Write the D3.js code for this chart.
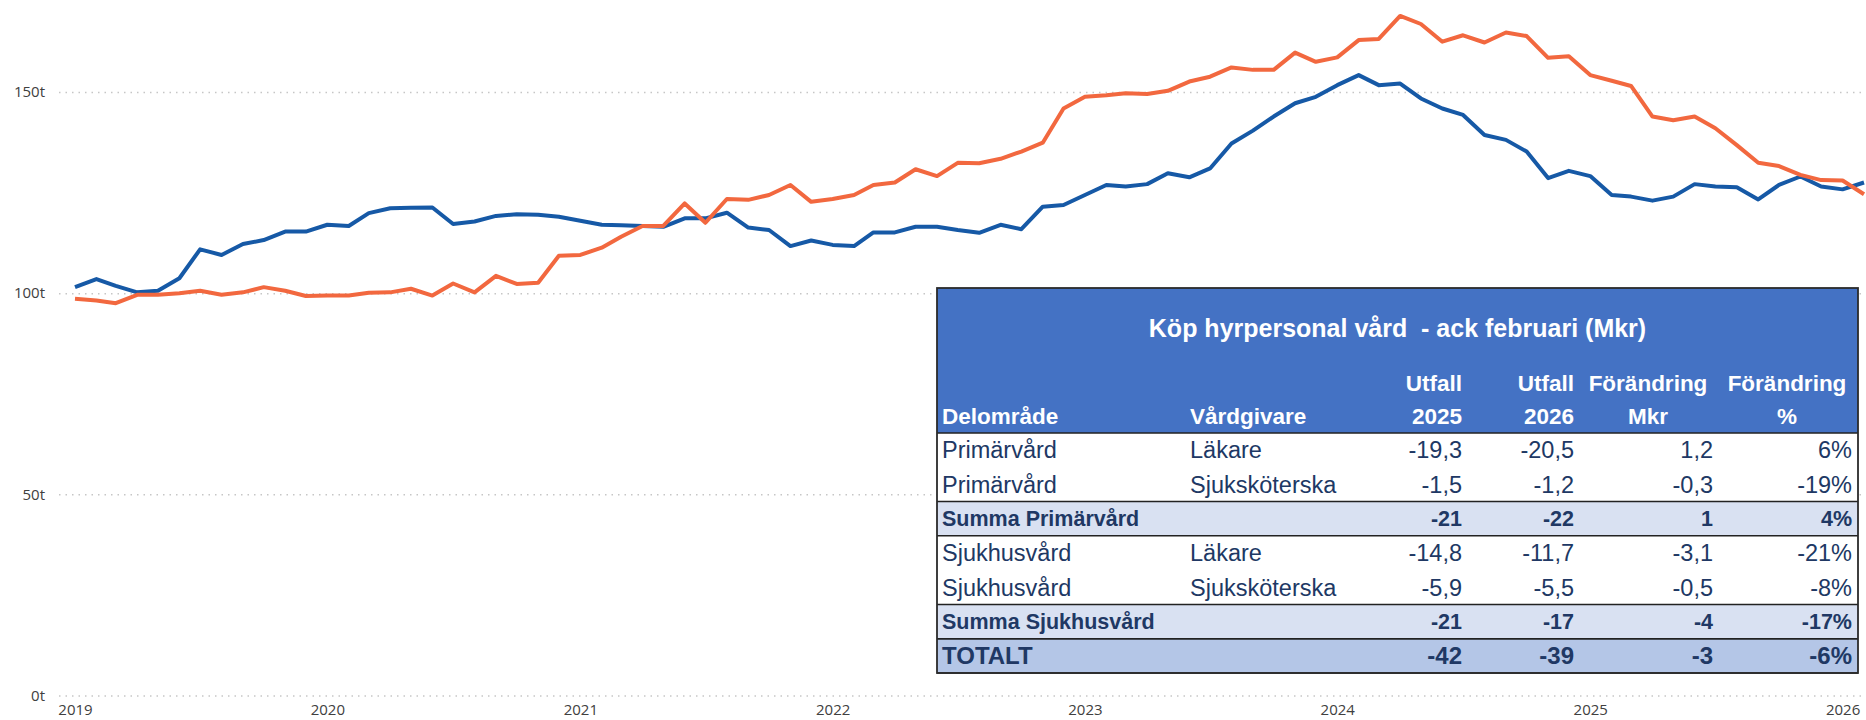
<!DOCTYPE html>
<html>
<head>
<meta charset="utf-8">
<script src="https://cdn.jsdelivr.net/npm/d3@7"></script>
<style>
body { margin: 0; background: #fff; }
svg { display: block; }
.axis text { font-family: "Open Sans", sans-serif; font-size: 15px; fill: #404040; }
.tbl text { font-family: "Liberation Sans", Arial, sans-serif; white-space: pre; }
</style>
</head>
<body>
<div id="chart"></div>
<script>
var valueTicks = [0, 50, 100, 150]
var yearTicks = [2019, 2020, 2021, 2022, 2023, 2024, 2025, 2026]

// månadsvärden jan 2019 - feb 2026
var seriesBlue = [
	101.5, 103.5, 101.8, 100.2, 100.6, 103.7, 110.9, 109.5, 112.2, 113.2, 115.3, 115.3,
	117.0, 116.7, 119.9, 121.1, 121.2, 121.3, 117.2, 117.8, 119.2, 119.6, 119.5, 119.0,
	118.0, 117.0, 116.9, 116.7, 116.5, 118.6, 118.6, 120.0, 116.3, 115.7, 111.7, 113.1,
	112.0, 111.7, 115.1, 115.1, 116.5, 116.5, 115.7, 115.0, 117.0, 115.9, 121.5, 121.9,
	124.4, 126.9, 126.5, 127.1, 129.8, 128.8, 131.0, 137.2, 140.4, 143.9, 147.2, 148.8,
	151.7, 154.2, 151.7, 152.1, 148.4, 145.9, 144.3, 139.3, 138.1, 135.2, 128.6, 130.4,
	129.1, 124.4, 124.0, 123.0, 124.0, 127.1, 126.5, 126.3, 123.3, 126.9, 129.0, 126.5,
	125.8, 127.5
]
var seriesOrange = [
	98.6, 98.2, 97.5, 99.6, 99.6, 100.0, 100.6, 99.6, 100.2, 101.5, 100.6, 99.3,
	99.4, 99.4, 100.1, 100.2, 101.1, 99.4, 102.4, 100.2, 104.3, 102.3, 102.6, 109.3,
	109.5, 111.3, 114.0, 116.7, 116.7, 122.3, 117.5, 123.4, 123.2, 124.4, 126.9, 122.7,
	123.4, 124.4, 126.9, 127.5, 130.8, 129.1, 132.4, 132.3, 133.4, 135.2, 137.4, 145.9,
	148.8, 149.2, 149.7, 149.5, 150.3, 152.6, 153.8, 156.1, 155.5, 155.5, 159.8, 157.5,
	158.6, 162.9, 163.2, 168.9, 166.9, 162.5, 164.1, 162.3, 164.8, 163.9, 158.5, 158.9,
	154.2, 152.8, 151.5, 143.9, 143.0, 143.9, 141.0, 136.8, 132.4, 131.6, 129.4, 128.1,
	128.0, 124.6
]

var tableTitle = "Köp hyrpersonal vård  - ack februari (Mkr)"
var headerTop = ["", "", "Utfall", "Utfall", "Förändring", "Förändring"]
var headerBottom = ["Delområde", "Vårdgivare", "2025", "2026", "Mkr", "%"]
var tableRows = [
	["Primärvård", "Läkare", "-19,3", "-20,5", "1,2", "6%"],
	["Primärvård", "Sjuksköterska", "-1,5", "-1,2", "-0,3", "-19%"],
	["Summa Primärvård", "", "-21", "-22", "1", "4%"],
	["Sjukhusvård", "Läkare", "-14,8", "-11,7", "-3,1", "-21%"],
	["Sjukhusvård", "Sjuksköterska", "-5,9", "-5,5", "-0,5", "-8%"],
	["Summa Sjukhusvård", "", "-21", "-17", "-4", "-17%"],
	["TOTALT", "", "-42", "-39", "-3", "-6%"]
]
var rowTypes = ["rad", "rad", "summa", "rad", "rad", "summa", "totalt"]

var W = 1866, H = 720
var months = d3.timeMonth.range(new Date(2019, 0, 1), new Date(2026, 2, 1))
var svg = d3.select("#chart").append("svg").attr("width", W).attr("height", H)

var x = d3.scaleTime().domain([months[0], months[months.length - 1]]).range([75, 1864])
var y = d3.scaleLinear().domain([0, 150]).range([695.5, 92])

var yAxis = svg.append("g").attr("class", "axis").attr("transform", "translate(59,0)")
	.call(d3.axisLeft(y).tickValues(valueTicks).tickFormat(function(d){ return d + "t" }).tickSize(-(W - 59)).tickPadding(14))
yAxis.select(".domain").remove()
yAxis.selectAll("line").attr("stroke", "#c6c6c6").attr("stroke-width", 1.5).attr("stroke-dasharray", "1.5,5")

var xAxis = svg.append("g").attr("class", "axis").attr("transform", "translate(0,695.5)")
	.call(d3.axisBottom(x).tickValues(yearTicks.map(function(yr){ return new Date(yr, 0, 1) })).tickFormat(d3.timeFormat("%Y")).tickSize(0).tickPadding(9))
xAxis.select(".domain").remove()

var line = d3.line().x(function(d, i){ return x(months[i]) }).y(function(d){ return y(d) })
svg.append("path").attr("d", line(seriesBlue)).attr("fill", "none")
	.attr("stroke", "#1659A6").attr("stroke-width", 4).attr("stroke-linejoin", "round")
svg.append("path").attr("d", line(seriesOrange)).attr("fill", "none")
	.attr("stroke", "#F2683F").attr("stroke-width", 4).attr("stroke-linejoin", "round")

// tabellen ovanpå diagrammet
var L = 937, R = 1858, T = 288, HB = 433, B = 673
var rowH = (B - HB) / tableRows.length
var navy = "#203864"
var tb = svg.append("g").attr("class", "tbl")

tb.append("rect").attr("x", L).attr("y", T).attr("width", R - L).attr("height", B - T).attr("fill", "#fff")
tb.append("rect").attr("x", L).attr("y", T).attr("width", R - L).attr("height", HB - T).attr("fill", "#4472C4")
tb.selectAll(".rowbg").data(rowTypes).enter().append("rect")
	.attr("x", L).attr("y", function(d, i){ return HB + i * rowH }).attr("width", R - L).attr("height", rowH)
	.attr("fill", function(d){ return d == "summa" ? "#D9E1F2" : d == "totalt" ? "#B4C6E7" : "none" })

var lineYs = [HB]
rowTypes.forEach(function(t, i){
	if (t != "rad") { lineYs.push(HB + i * rowH); lineYs.push(HB + (i + 1) * rowH) }
})
tb.selectAll(".hline").data(lineYs).enter().append("line")
	.attr("x1", L).attr("x2", R).attr("y1", function(d){ return d }).attr("y2", function(d){ return d })
	.attr("stroke", "#222").attr("stroke-width", 1.5)
tb.append("rect").attr("x", L).attr("y", T).attr("width", R - L).attr("height", B - T)
	.attr("fill", "none").attr("stroke", "#2b2b2b").attr("stroke-width", 1.8)

tb.append("text").attr("x", (L + R) / 2).attr("y", 337).attr("text-anchor", "middle")
	.attr("fill", "#fff").attr("font-weight", "bold").attr("font-size", 25).text(tableTitle)

var colX = [942, 1190, 1462, 1574, 1713, 1852]
var colAnchor = ["start", "start", "end", "end", "end", "end"]
var headX = [942, 1190, 1462, 1574, 1648, 1787]
var headAnchor = ["start", "start", "end", "end", "middle", "middle"]

tb.selectAll(".h1").data(headerTop).enter().append("text")
	.attr("x", function(d, i){ return headX[i] }).attr("y", 391).attr("text-anchor", function(d, i){ return headAnchor[i] })
	.attr("fill", "#fff").attr("font-weight", "bold").attr("font-size", 22.5).text(function(d){ return d })
tb.selectAll(".h2").data(headerBottom).enter().append("text")
	.attr("x", function(d, i){ return headX[i] }).attr("y", 424).attr("text-anchor", function(d, i){ return headAnchor[i] })
	.attr("fill", "#fff").attr("font-weight", "bold").attr("font-size", 22.5).text(function(d){ return d })

tableRows.forEach(function(row, r){
	var t = rowTypes[r]
	var size = t == "rad" ? 23.5 : t == "summa" ? 21.5 : 24
	tb.selectAll(".r" + r).data(row).enter().append("text")
		.attr("x", function(d, i){ return colX[i] })
		.attr("y", HB + (r + 0.5) * rowH).attr("dy", "0.35em")
		.attr("text-anchor", function(d, i){ return colAnchor[i] })
		.attr("fill", navy).attr("font-size", size)
		.attr("font-weight", t == "rad" ? "normal" : "bold")
		.text(function(d){ return d })
})
</script>
</body>
</html>
